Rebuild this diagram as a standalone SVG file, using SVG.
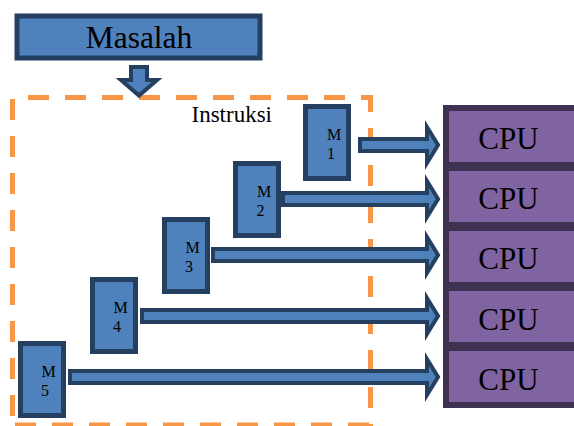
<svg xmlns="http://www.w3.org/2000/svg" width="574" height="426" viewBox="0 0 574 426">
  <style>
    .blue { fill: #4f81bd; stroke: #243f60; stroke-width: 5; }
    .arrow { fill: #4f81bd; stroke: #243f60; stroke-width: 4; stroke-linejoin: miter; stroke-miterlimit: 10; }
    .cpu { fill: #8064a2; stroke: #3f3151; stroke-width: 6; }
    .dash { fill: none; stroke: #f79646; stroke-width: 5; stroke-dasharray: 21 16; }
    .serif { font-family: "Liberation Serif", "Times New Roman", serif; fill: #000; }
    .m { font-size: 16px; text-anchor: middle; }
    .cputxt { font-size: 31px; text-anchor: middle; }
  </style>

  <rect x="0" y="0" width="574" height="426" fill="#ffffff"/>

  <!-- dashed boundary around the instruction memories -->
  <g id="boundary">
    <path class="dash" d="M28,97.5 H373"/>
    <path class="dash" d="M370.5,95 V426" stroke-dashoffset="4"/>
    <path class="dash" d="M12.5,99 V426"/>
    <path class="dash" d="M15,425 H371"/>
    <text class="serif" x="191.5" y="122" font-size="23">Instruksi</text>
  </g>

  <!-- problem box -->
  <g id="masalah">
    <rect class="blue" x="17" y="16" width="243" height="42" stroke-width="6"/>
    <text class="serif" x="139" y="48" font-size="31.5" text-anchor="middle">Masalah</text>
  </g>

  <!-- instruction memories M1..M5 -->
  <g id="m1">
    <rect class="blue" x="305.5" y="106.5" width="43" height="72"/>
    <text class="serif m" x="334" y="140">M</text>
    <text class="serif m" x="331" y="159">1</text>
  </g>
  <g id="m2">
    <rect class="blue" x="235.5" y="163.5" width="43" height="72"/>
    <text class="serif m" x="264" y="197">M</text>
    <text class="serif m" x="260.5" y="216">2</text>
  </g>
  <g id="m3">
    <rect class="blue" x="164.5" y="219.5" width="43" height="72"/>
    <text class="serif m" x="192.5" y="253">M</text>
    <text class="serif m" x="189" y="272">3</text>
  </g>
  <g id="m4">
    <rect class="blue" x="92.5" y="279.5" width="43" height="72"/>
    <text class="serif m" x="120.5" y="313">M</text>
    <text class="serif m" x="117" y="332">4</text>
  </g>
  <g id="m5">
    <rect class="blue" x="20.5" y="343.5" width="43" height="72"/>
    <text class="serif m" x="48.5" y="377">M</text>
    <text class="serif m" x="45" y="396">5</text>
  </g>

  <!-- processors -->
  <g id="cpu1">
    <rect class="cpu" x="446" y="108" width="140" height="57"/>
    <text class="serif cputxt" x="508.5" y="149">CPU</text>
  </g>
  <g id="cpu2">
    <rect class="cpu" x="446" y="168" width="140" height="57"/>
    <text class="serif cputxt" x="508.5" y="209">CPU</text>
  </g>
  <g id="cpu3">
    <rect class="cpu" x="446" y="228" width="140" height="57"/>
    <text class="serif cputxt" x="508.5" y="269">CPU</text>
  </g>
  <g id="cpu4">
    <rect class="cpu" x="446" y="288" width="140" height="57"/>
    <text class="serif cputxt" x="508.5" y="329.5">CPU</text>
  </g>
  <g id="cpu5">
    <rect class="cpu" x="446" y="348" width="140" height="57"/>
    <text class="serif cputxt" x="508.5" y="389.5">CPU</text>
  </g>

  <!-- block arrows -->
  <g id="connectors">
    <polygon class="arrow" points="131,67 147,67 147,80 157,80 139,95.5 121,80 131,80"/>
    <polygon class="arrow" points="360,139 427,139 427,127 438,145 427,163 427,151 360,151"/>
    <polygon class="arrow" points="283,193 427,193 427,181 438,199 427,217 427,205 283,205"/>
    <polygon class="arrow" points="213,249 427,249 427,237 438,255 427,273 427,261 213,261"/>
    <polygon class="arrow" points="142,310 427,310 427,298 438,316 427,334 427,322 142,322"/>
    <polygon class="arrow" points="70,371 427,371 427,359 438,377 427,395 427,383 70,383"/>
  </g>
</svg>
